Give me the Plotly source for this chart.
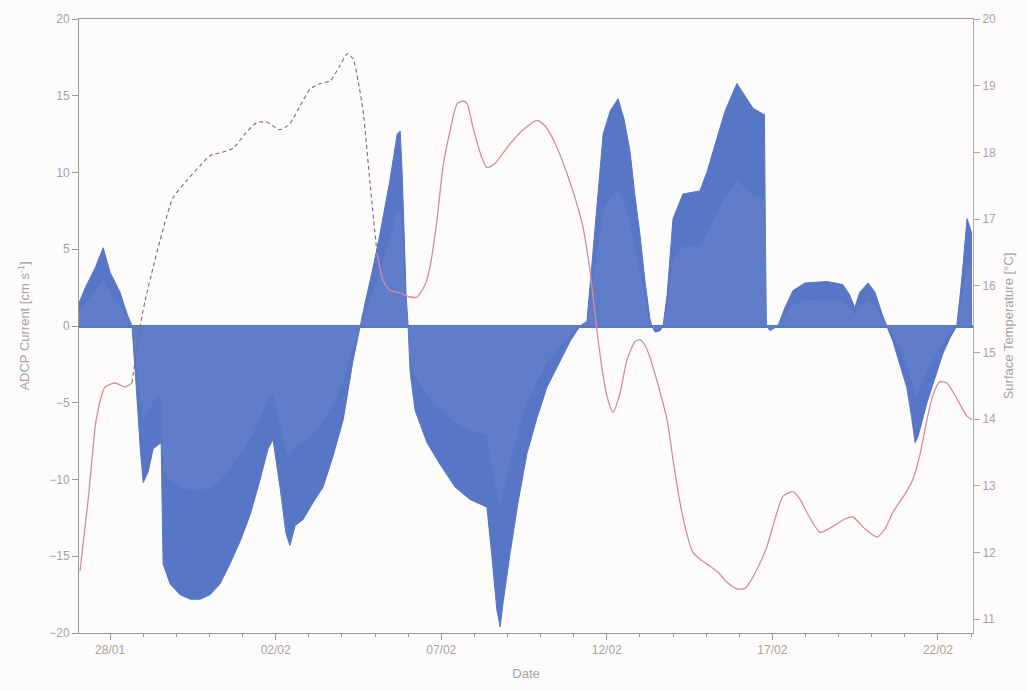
import numpy as np
import pandas as pd
import plotly.graph_objects as go

# ---- ADCP current envelope (cm/s), time in days from 28 Jan 00:00 ----
current_day = [
    -0.94, -0.75, -0.45, -0.21, 0.00, 0.30, 0.51, 0.66, 0.79, 0.91, 1.00, 1.15, 1.30,
    1.54, 1.60, 1.81, 2.11, 2.42, 2.72, 3.02, 3.32, 3.62, 3.93, 4.23, 4.53, 4.77, 4.92,
    5.13, 5.31, 5.43, 5.59, 5.83, 6.13, 6.43, 6.73, 7.04, 7.34, 7.55, 7.70, 7.91, 8.15,
    8.45, 8.67, 8.76, 8.82, 8.88, 8.94, 9.00, 9.06, 9.21, 9.57, 9.96, 10.42, 10.87,
    11.17, 11.38, 11.53, 11.68, 11.78, 11.87, 12.08, 12.32, 12.59, 12.89, 13.19, 13.53,
    13.89, 14.19, 14.40, 14.55, 14.70, 14.89, 15.10, 15.34, 15.52, 15.70, 15.85, 16.00,
    16.15, 16.30, 16.36, 16.46, 16.61, 16.70, 16.82, 17.00, 17.30, 17.81, 18.02, 18.21,
    18.57, 18.93, 19.17, 19.41, 19.72, 19.76, 19.79, 19.82, 19.93, 20.17, 20.38, 20.62,
    20.98, 21.65, 22.13, 22.34, 22.49, 22.64, 22.89, 23.10, 23.31, 23.46, 23.64, 23.85,
    24.06, 24.21, 24.31, 24.40, 24.67, 24.91, 25.15, 25.36, 25.57, 25.72, 25.88, 26.03,
]
current_val = [
    1.5, 2.5, 3.8, 5.1, 3.5, 2.2, 0.8, 0.0, -4.0, -8.0, -10.2, -9.5, -8.0,
    -7.6, -15.5, -16.8, -17.5, -17.8, -17.8, -17.5, -16.8, -15.5, -14.0, -12.3, -10.0, -8.0, -7.4,
    -10.5, -13.5, -14.3, -13.0, -12.6, -11.5, -10.5, -8.5, -6.1, -2.2, 0.0, 1.5, 3.5, 6.0,
    9.5, 12.5, 12.7, 10.0, 6.0, 2.0, 0.0, -3.0, -5.5, -7.6, -9.0, -10.5, -11.3,
    -11.6, -11.8, -15.0, -18.5, -19.6, -18.0, -14.8, -11.5, -8.3, -6.0, -4.0, -2.5,
    -1.0, 0.0, 0.3, 4.0, 8.0, 12.5, 14.0, 14.8, 13.5, 11.4, 8.5, 6.0,
    3.0, 0.5, 0.0, -0.4, -0.3, 0.0, 2.0, 7.0, 8.6, 8.8, 10.0, 11.4,
    14.0, 15.8, 15.0, 14.2, 13.8, 13.8, 6.0, 0.0, -0.3, 0.0, 1.2, 2.3,
    2.8, 2.9, 2.7, 2.0, 1.2, 2.2, 2.8, 2.2, 0.8, 0.0, -1.0, -2.5,
    -4.0, -6.0, -7.6, -7.2, -5.0, -3.4, -1.8, -0.8, 0.0, 3.0, 7.0, 6.0,
]

# ---- Surface temperature (deg C), gap-filled stretch drawn dashed ----
temp_day = [
    -0.91, -0.66, -0.42, -0.15, 0.15, 0.45, 0.66,
]
temp_val = [
    11.72, 12.80, 13.99, 14.48, 14.54, 14.48, 14.54,
]
gap_day = [
    0.66, 0.91, 1.06, 1.30, 1.51, 1.90, 2.32, 2.72, 3.02, 3.38, 3.71, 4.08, 4.44,
    4.74, 5.13, 5.43, 5.74, 6.04, 6.34, 6.64, 6.94, 7.16, 7.34, 7.49, 7.64, 7.85, 8.06,
]
gap_val = [
    14.54, 15.41, 15.78, 16.28, 16.68, 17.32, 17.58, 17.80, 17.95, 18.00, 18.06, 18.28, 18.45,
    18.45, 18.34, 18.43, 18.70, 18.95, 19.03, 19.07, 19.30, 19.48, 19.40, 19.07, 18.62, 17.53, 16.49,
]
temp2_day = [
    8.06, 8.24, 8.45, 8.76, 9.06, 9.27, 9.51, 9.66, 9.87, 10.05, 10.27, 10.48, 10.66,
    10.78, 10.96, 11.17, 11.38, 11.62, 12.08, 12.53, 12.89, 13.13, 13.29, 13.53, 13.80,
    14.04, 14.28, 14.49, 14.70, 14.86, 15.01, 15.19, 15.40, 15.61, 15.85, 16.00, 16.15,
    16.30, 16.55, 16.82, 17.00, 17.21, 17.42, 17.60, 17.81, 18.12, 18.36, 18.63, 18.93,
    19.17, 19.32, 19.57, 19.84, 20.08, 20.32, 20.62, 20.83, 21.04, 21.44, 21.83, 22.19,
    22.43, 22.80, 23.16, 23.40, 23.64, 24.00, 24.24, 24.46, 24.67, 24.85, 25.06, 25.27,
    25.51, 25.88, 26.03,
]
temp2_val = [
    16.49, 16.08, 15.93, 15.89, 15.83, 15.83, 16.01, 16.28, 16.98, 17.77, 18.33, 18.73, 18.77,
    18.73, 18.37, 18.00, 17.77, 17.83, 18.13, 18.36, 18.48, 18.40, 18.28, 18.03, 17.68,
    17.32, 16.88, 16.23, 15.34, 14.74, 14.33, 14.10, 14.39, 14.89, 15.16, 15.19, 15.11,
    14.93, 14.51, 13.99, 13.39, 12.75, 12.27, 12.00, 11.90, 11.79, 11.70, 11.55, 11.45,
    11.46, 11.55, 11.78, 12.09, 12.50, 12.84, 12.91, 12.80, 12.60, 12.30, 12.39, 12.50,
    12.53, 12.35, 12.23, 12.35, 12.60, 12.87, 13.09, 13.47, 13.99, 14.36, 14.56, 14.54,
    14.36, 14.04, 13.99,
]

tick_dates = ["2011-01-28", "2011-02-02", "2011-02-07", "2011-02-12", "2011-02-17", "2011-02-22"]
tick_text = ["28/01", "02/02", "07/02", "12/02", "17/02", "22/02"]

base = pd.Timestamp("2011-01-28")


def to_time(days):
    return base + pd.to_timedelta(np.asarray(days), unit="D")


BLUE = "rgb(88,118,198)"
PINK = "rgb(214,140,158)"
GREY_TXT = "#a3a3a3"

fig = go.Figure()

fig.add_trace(go.Scatter(
    x=to_time(current_day), y=current_val, mode="lines",
    line=dict(color=BLUE, width=1), fill="tozeroy", fillcolor=BLUE,
    showlegend=False, hoverinfo="skip",
))
# faint lighter shading inside the current envelope
fig.add_trace(go.Scatter(
    x=to_time(current_day), y=[v * 0.6 for v in current_val], mode="lines",
    line=dict(color="rgba(150,172,225,0.0)", width=0), fill="tozeroy",
    fillcolor="rgba(150,172,225,0.14)", showlegend=False, hoverinfo="skip",
))

fig.add_trace(go.Scatter(
    x=to_time(temp_day), y=temp_val, mode="lines", yaxis="y2",
    line=dict(color=PINK, width=1.3, shape="spline", smoothing=0.6),
    showlegend=False, hoverinfo="skip",
))
fig.add_trace(go.Scatter(
    x=to_time(gap_day), y=gap_val, mode="lines", yaxis="y2",
    line=dict(color="rgb(120,110,110)", width=1.1, dash="4px,3px", shape="spline", smoothing=0.6),
    showlegend=False, hoverinfo="skip",
))
fig.add_trace(go.Scatter(
    x=to_time(temp2_day), y=temp2_val, mode="lines", yaxis="y2",
    line=dict(color=PINK, width=1.3, shape="spline", smoothing=0.6),
    showlegend=False, hoverinfo="skip",
))

fig.update_layout(
    width=1026, height=691,
    margin=dict(l=79, r=53, t=18, b=57),
    paper_bgcolor="#fefcfa", plot_bgcolor="#fefcfa",
    font=dict(family="Liberation Sans, Arial, sans-serif", size=12, color=GREY_TXT),
    xaxis=dict(
        type="date",
        range=[to_time([-0.94])[0], to_time([26.06])[0]],
        tickmode="array", tickvals=tick_dates, ticktext=tick_text,
        ticks="outside", ticklen=6, tickcolor="#9a9a9a", tickwidth=1,
        minor=dict(dtick=86400000, tick0="2011-01-28", ticks="outside", ticklen=3,
                   tickcolor="#9a9a9a", showgrid=False),
        showline=True, linecolor="#9a9a9a", linewidth=1, mirror=True,
        showgrid=False, zeroline=False,
        title=dict(text="Date", standoff=12, font=dict(size=13, color=GREY_TXT)),
        tickfont=dict(size=12, color=GREY_TXT),
    ),
    yaxis=dict(
        range=[-20, 20], tickvals=[-20, -15, -10, -5, 0, 5, 10, 15, 20],
        ticks="outside", ticklen=6, tickcolor="#9a9a9a",
        showline=True, linecolor="#9a9a9a", linewidth=1,
        showgrid=False, zeroline=True, zerolinecolor=BLUE, zerolinewidth=3,
        title=dict(text="ADCP Current [cm s<sup>-1</sup>]", standoff=16,
                   font=dict(size=13, color=GREY_TXT)),
        tickfont=dict(size=12, color=GREY_TXT),
    ),
    yaxis2=dict(
        overlaying="y", side="right",
        range=[10.79, 20], tickvals=list(range(11, 21)),
        ticks="outside", ticklen=6, tickcolor="rgb(214,150,165)",
        showline=True, linecolor="rgb(214,150,165)", linewidth=1,
        showgrid=False, zeroline=False,
        title=dict(text="Surface Temperature [°C]", standoff=8,
                   font=dict(size=13, color=GREY_TXT)),
        tickfont=dict(size=12, color="#b0a0a4"),
    ),
)

fig.write_html("out.html")
